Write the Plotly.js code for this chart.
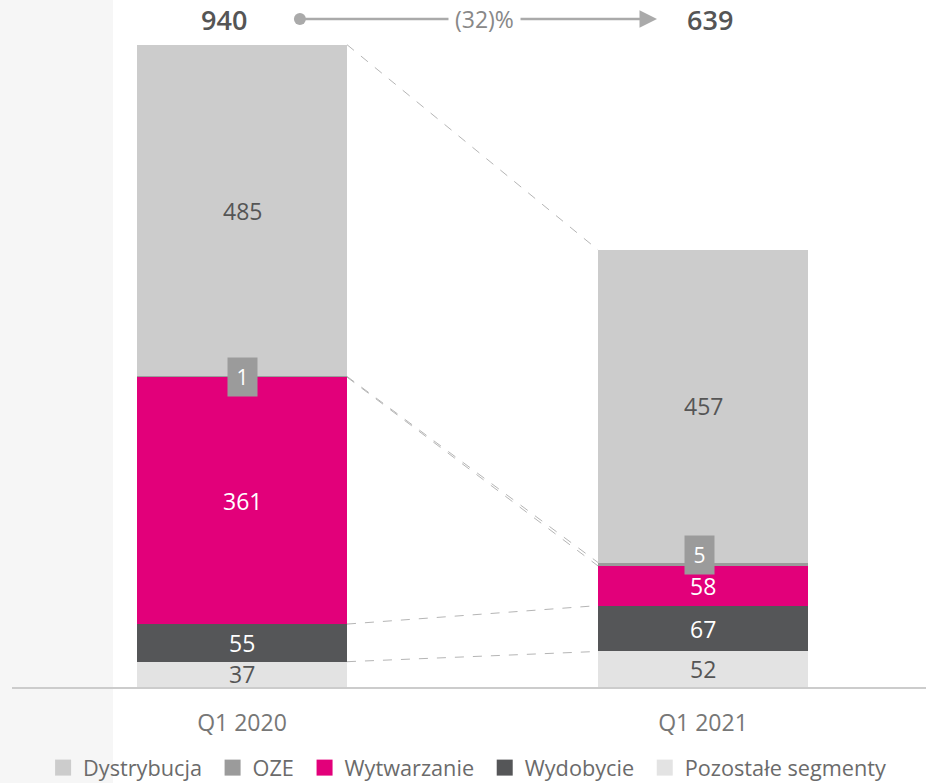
<!DOCTYPE html>
<html><head><meta charset="utf-8">
<script src="https://cdn.plot.ly/plotly-3.0.1.min.js"></script>
<style>html,body{margin:0;padding:0;background:#fff}#chart{width:926px;height:783px}</style>
</head><body><div id="chart"></div>
<script>
// ---- data ----
const categories = ["Q1 2020", "Q1 2021"];
const segments = ["Pozostałe segmenty", "Wydobycie", "Wytwarzanie", "OZE", "Dystrybucja"]; // bottom to top
const pozostale = [37, 52];
const wydobycie = [55, 67];
const wytwarzanie = [361, 58];
const oze = [1, 5];
const dystrybucja = [485, 457];
const totals = [940, 639];

const series = [pozostale, wydobycie, wytwarzanie, oze, dystrybucja];
const colors = ["#e3e3e3", "#555658", "#e2007a", "#9b9b9b", "#cccccc"];
const labelColors = ["#555555", "#ffffff", "#ffffff", "#ffffff", "#555555"];
const FONT = "Open Sans";

const xPos = [0, 1];
const barW = 0.4555;

const traces = [];
const annotations = [];
// stacked bars
series.forEach((vals, i) => {
  traces.push({
    type: "bar", x: xPos, y: vals, name: segments[i], width: barW,
    marker: {color: colors[i], line: {width: 0}}, showlegend: false
  });
});
// legend entries (square swatches)
series.forEach((vals, i) => {
  traces.push({
    type: "scatter", mode: "markers", x: [null], y: [null], name: segments[i] + "\u00a0",
    marker: {symbol: "square", size: 16, color: colors[i]}
  });
});
// cumulative tops
const cum = series.map((_, i) => xPos.map((_, j) => series.slice(0, i + 1).reduce((s, a) => s + a[j], 0)));
// dashed connectors
cum.forEach((tops) => {
  traces.push({
    type: "scatter", mode: "lines", x: [xPos[0] + barW / 2, xPos[1] - barW / 2], y: [tops[0], tops[1]],
    line: {color: "#b5b5b5", width: 1, dash: "dash"}, showlegend: false, hoverinfo: "skip"
  });
});
// segment labels
series.forEach((vals, i) => {
  vals.forEach((v, j) => {
    const base = i === 0 ? 0 : cum[i - 1][j];
    if (segments[i] === "OZE") {
      annotations.push({x: xPos[j], y: base + v / 2, text: String(v), showarrow: false,
        xshift: j === 1 ? -4 : 0, yshift: j === 1 ? 9 : 0,
        font: {family: FONT, size: 21, color: "#ffffff"}, bgcolor: "#9b9b9b",
        width: 27, height: 36, borderpad: 1});
    } else {
      annotations.push({x: xPos[j], y: base + v / 2, text: String(v), showarrow: false,
        font: {family: FONT, size: 23, color: labelColors[i]}});
    }
  });
});
// totals
const topY = Math.max(...totals);
const totalShift = [-18, 7];
totals.forEach((t, j) => {
  annotations.push({x: xPos[j], y: topY, yanchor: "bottom", yshift: 4, xshift: totalShift[j], text: String(t), showarrow: false,
    font: {family: FONT, size: 27, color: "#555555", weight: 600}});
});
// change arrow
const change = Math.round((totals[1] / totals[0] - 1) * 100);
const changeTxt = change < 0 ? "(" + Math.abs(change) + ")%" : change + "%";
const arrowY = 1 - 19 / 687;
annotations.push({xref: "paper", yref: "paper", x: 0.7057, y: arrowY, ax: 0.315, ay: arrowY,
  axref: "paper", ayref: "paper", text: "", showarrow: true, arrowhead: 2, arrowsize: 1.4, arrowwidth: 2.5, arrowcolor: "#aaaaaa"});
annotations.push({xref: "paper", yref: "paper", x: 0.5175, y: arrowY, yanchor: "middle", text: changeTxt, showarrow: false,
  bgcolor: "#ffffff", borderpad: 6, font: {family: FONT, size: 23, color: "#888888"}});

const layout = {
  width: 926, height: 783,
  margin: {l: 12, r: 0, t: 0, b: 96, autoexpand: false},
  paper_bgcolor: "#ffffff", plot_bgcolor: "rgba(0,0,0,0)",
  barmode: "stack", bargap: 0,
  showlegend: true,
  legend: {orientation: "h", traceorder: "reversed", x: 0.034, xanchor: "left", y: 1 - 768 / 687, yanchor: "middle",
    bgcolor: "rgba(0,0,0,0)", font: {family: FONT, size: 21.7, color: "#6b6b6b"}, itemwidth: 30},
  xaxis: {range: [-0.4989, 1.4837], tickvals: xPos, ticktext: categories, showgrid: false, zeroline: false,
    showline: true, linecolor: "#cccccc", linewidth: 1.5, ticks: "", ticklabelstandoff: 15,
    tickfont: {family: FONT, size: 23, color: "#777777"}, fixedrange: true, automargin: false},
  yaxis: {range: [0, 1004.3], visible: false, fixedrange: true},
  shapes: [
    {type: "rect", xref: "paper", yref: "paper", x0: -0.0131, x1: 0.1105, y0: -0.14, y1: 1,
      fillcolor: "#f6f6f6", line: {width: 0}, layer: "below"},
    {type: "circle", xref: "paper", yref: "paper", xsizemode: "pixel", ysizemode: "pixel",
      xanchor: 0.315, yanchor: arrowY, x0: -6, x1: 6, y0: -6, y1: 6, fillcolor: "#aaaaaa", line: {width: 0}}
  ],
  annotations: annotations,
  font: {family: FONT}
};
Plotly.newPlot("chart", traces, layout, {displayModeBar: false, staticPlot: true});
</script></body></html>
